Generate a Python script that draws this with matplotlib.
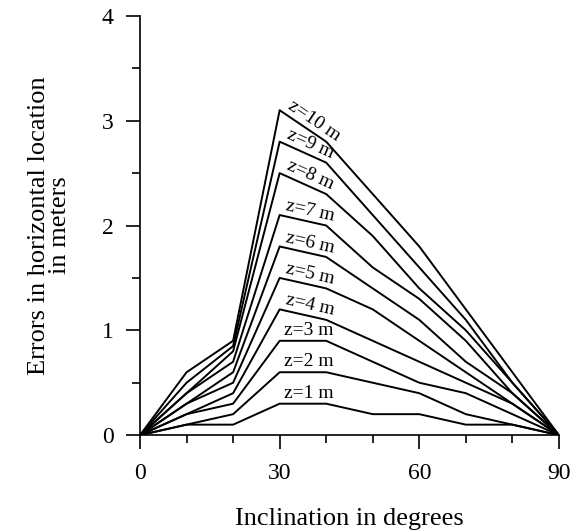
import numpy as np
import matplotlib
matplotlib.use("Agg")
import matplotlib.pyplot as plt

plt.rcParams['font.family'] = ['Liberation Serif', 'DejaVu Serif']

# inclination angles (degrees)
incl = [0, 10, 20, 30, 40, 50, 60, 70, 80, 90]

# horizontal location error (m) for each depth z
err_z1 = [0, 0.1, 0.1, 0.3, 0.3, 0.2, 0.2, 0.1, 0.1, 0]
err_z2 = [0, 0.1, 0.2, 0.6, 0.6, 0.5, 0.4, 0.2, 0.1, 0]
err_z3 = [0, 0.2, 0.3, 0.9, 0.9, 0.7, 0.5, 0.4, 0.2, 0]
err_z4 = [0, 0.2, 0.4, 1.2, 1.1, 0.9, 0.7, 0.5, 0.3, 0]
err_z5 = [0, 0.3, 0.5, 1.5, 1.4, 1.2, 0.9, 0.6, 0.3, 0]
err_z6 = [0, 0.3, 0.6, 1.8, 1.7, 1.4, 1.1, 0.7, 0.4, 0]
err_z7 = [0, 0.4, 0.7, 2.1, 2.0, 1.6, 1.3, 0.9, 0.4, 0]
err_z8 = [0, 0.4, 0.8, 2.5, 2.3, 1.9, 1.4, 1.0, 0.5, 0]
err_z9 = [0, 0.5, 0.85, 2.8, 2.6, 2.1, 1.6, 1.1, 0.5, 0]
err_z10 = [0, 0.6, 0.9, 3.1, 2.8, 2.3, 1.8, 1.2, 0.6, 0]

series = [err_z1, err_z2, err_z3, err_z4, err_z5,
          err_z6, err_z7, err_z8, err_z9, err_z10]
labels = ['z=%d m' % k for k in range(1, 11)]

fig = plt.figure(figsize=(5.81, 5.30), dpi=100)
ax = fig.add_axes([0.241, 0.179, 0.721, 0.791])

for vals in series:
    ax.plot(incl, vals, color='black', lw=1.4)

ax.set_xlim(0, 90)
ax.set_ylim(0, 4)
ax.set_xticks([0, 30, 60, 90])
ax.set_xticks(np.arange(0, 91, 10), minor=True)
ax.set_yticks([0, 1, 2, 3, 4])
ax.set_yticks(np.arange(0, 4.01, 0.5), minor=True)
ax.tick_params(which='major', direction='out', length=10, width=1.2, labelsize=17)
ax.tick_params(axis='x', which='major', pad=10)
ax.tick_params(axis='y', which='major', pad=9)
ax.tick_params(which='minor', direction='out', length=6, width=1.2)
ax.spines['top'].set_visible(False)
ax.spines['right'].set_visible(False)
ax.spines['left'].set_linewidth(1.2)
ax.spines['bottom'].set_linewidth(1.2)
for sp in ('left', 'bottom'):
    ax.spines[sp].set_clip_on(False)

ax.set_xlabel('Inclination in degrees', fontsize=19, labelpad=17)
ax.set_ylabel('Errors in horizontal location\nin meters', fontsize=19, labelpad=22,
              linespacing=0.95)

# labels along the 30-40 degree segment of each curve
fig.canvas.draw()
for vals, lab in zip(series, labels):
    p0 = ax.transData.transform((incl[3], vals[3]))
    p1 = ax.transData.transform((incl[4], vals[4]))
    ang = np.degrees(np.arctan2(p1[1] - p0[1], p1[0] - p0[0]))
    xa = 31
    ya = vals[3] + (vals[4] - vals[3]) * (xa - incl[3]) / (incl[4] - incl[3])
    ax.annotate(lab, xy=(xa, ya), xytext=(0, 1.5), textcoords='offset points',
                rotation=ang, rotation_mode='anchor', ha='left', va='bottom',
                fontsize=14)

fig.savefig('out.png', dpi=100)
